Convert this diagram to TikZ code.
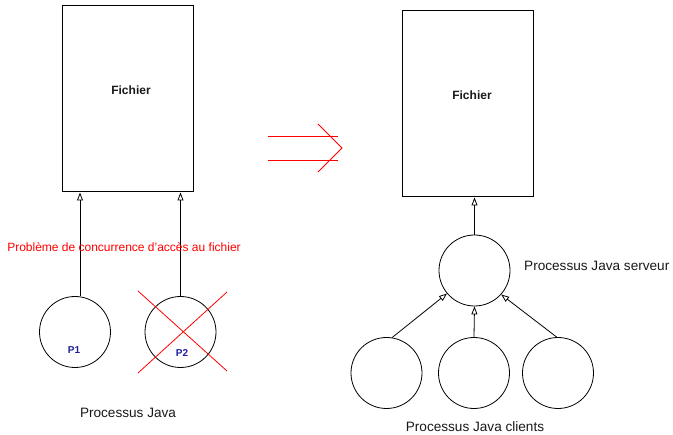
\documentclass[tikz,border=0pt]{standalone}
\usepackage{fontspec}
\setmainfont{Liberation Sans}
\usetikzlibrary{arrows.meta}
\definecolor{pnavy}{RGB}{30,30,150}
\tikzset{
  filebox/.style={draw=black, line width=1pt, minimum width=131pt, minimum height=186pt, inner sep=0pt},
  proc/.style={draw=black, circle, line width=0.8pt, minimum size=71pt, inner sep=0pt},
  arr/.style={draw=black, line width=0.8pt, -{Triangle[open,length=8pt,width=6pt]}},
  lbl/.style={font=\fontsize{13.6}{16}\selectfont, text=black!90, inner sep=0pt},
  boldlbl/.style={font=\fontsize{12}{14}\selectfont\bfseries, text=black!90, inner sep=0pt},
  plbl/.style={font=\fontsize{10}{12}\selectfont\bfseries, text=pnavy, inner sep=0pt},
  redline/.style={draw=red, line width=0.8pt},
}
\begin{document}
\begin{tikzpicture}[x=1pt,y=-1pt]
\useasboundingbox (0,0) rectangle (673,435);
% left part
\node[filebox] (f1) at (127.5,99) {};
\node[boldlbl] (f1t) at (131,90) {Fichier};
\node[proc] (p1) at (75,332) {};
\node[proc] (p2) at (180.5,332) {};
\node[plbl] (p1t) at (74,350) {P1};
\node[plbl] (p2t) at (182,353) {P2};
\draw[arr] (p1.82) -- (p1.82 |- f1.south);
\draw[arr] (p2.north) -- (p2.north |- f1.south);
\draw[redline] (138,291) -- (227,371);
\draw[redline] (227,292) -- (138,373);
\node[font=\fontsize{12}{14}\selectfont, text=red, inner sep=0pt] (pb) at (124,247) {Problème de concurrence d'accès au fichier};
\node[lbl] (pj) at (128,413) {Processus Java};
% double arrow
\draw[redline] (268,136) -- (338,136);
\draw[redline] (268,160) -- (338,160);
\draw[redline] (318,124) -- (342,148) -- (318,172);
% right part
\node[filebox] (f2) at (468,104) {};
\node[boldlbl] (f2t) at (472,95) {Fichier};
\node[proc] (srv) at (474.5,270.5) {};
\node[proc] (c1) at (386.5,373) {};
\node[proc] (c2) at (474,373) {};
\node[proc] (c3) at (558,373) {};
\draw[arr] (srv.north) -- (srv.north |- f2.south);
\draw[arr] (c1.81) -- (srv.220);
\draw[arr] (c2.north) -- (srv.south);
\draw[arr] (c3.92) -- (srv.318);
\node[lbl, anchor=west] (srvt) at (524,266) {Processus Java serveur};
\node[lbl] (clt) at (475,427) {Processus Java clients};
\end{tikzpicture}
\end{document}
